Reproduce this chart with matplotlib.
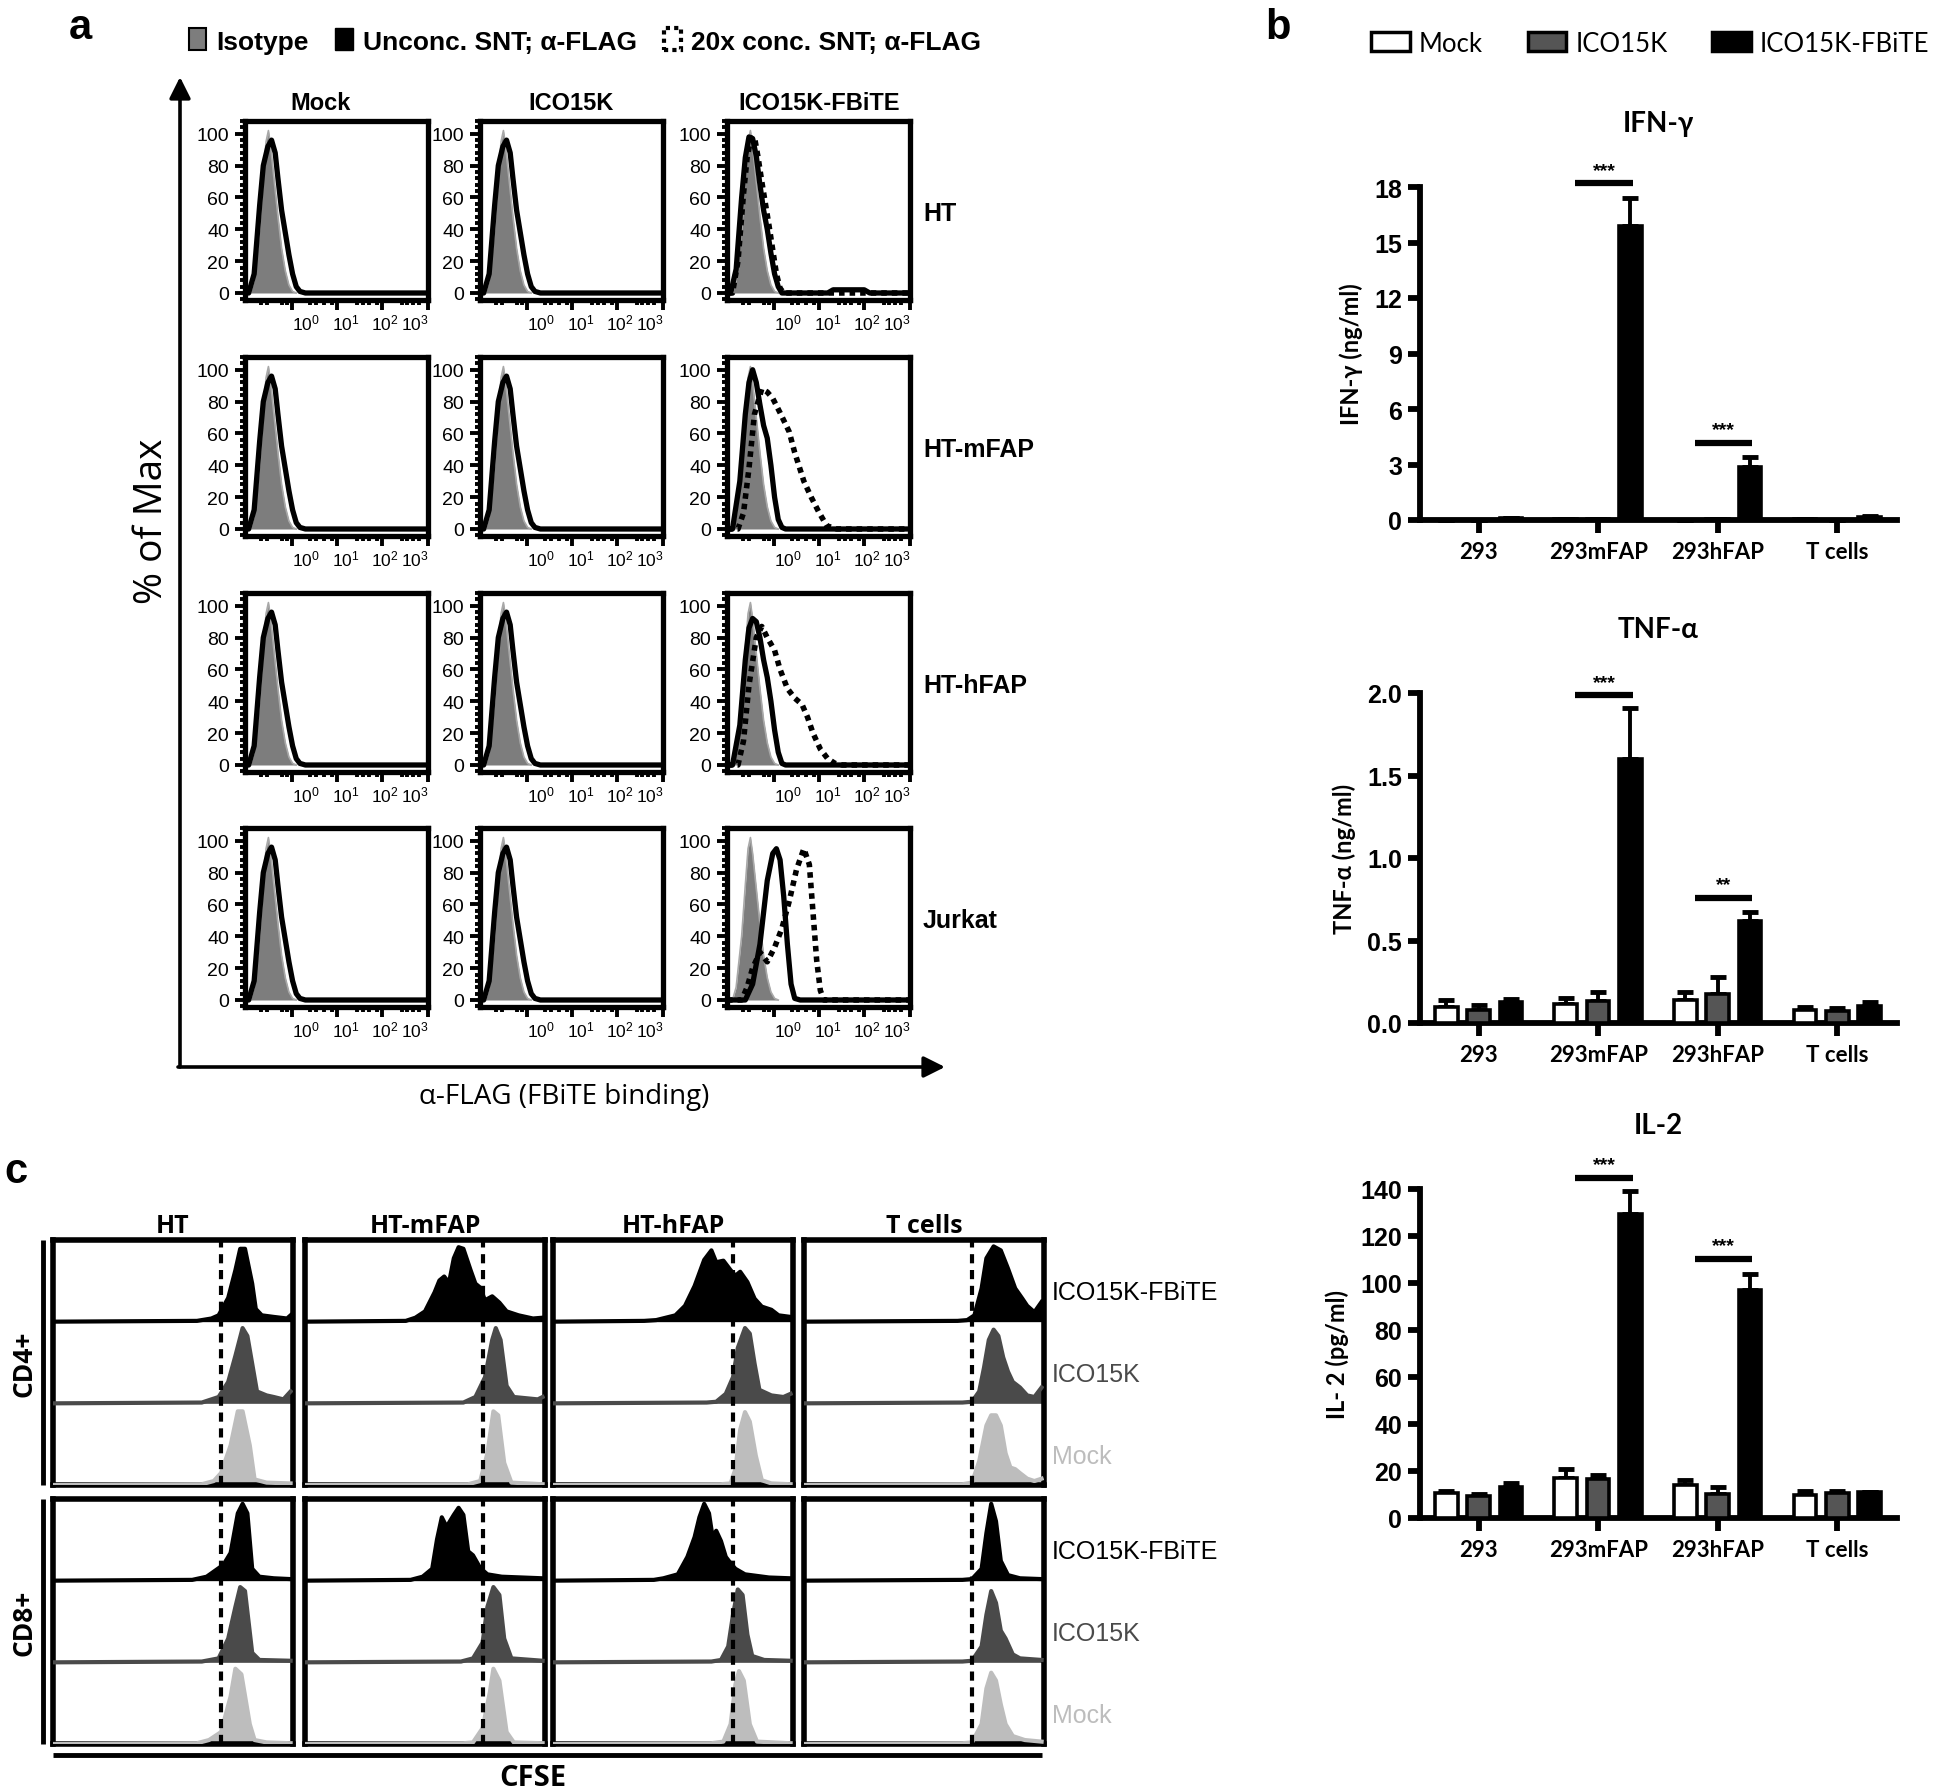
import numpy as np
import matplotlib
matplotlib.use("Agg")
import matplotlib.pyplot as plt
from matplotlib.patches import Patch
from matplotlib.ticker import FixedLocator, MultipleLocator

W, H = 1944, 1790
NARROW = ["Liberation Sans Narrow", "Liberation Sans", "DejaVu Sans"]
ARIAL = ["Liberation Sans", "DejaVu Sans"]
OPEN = ["Open Sans", "DejaVu Sans"]
LATO = ["Lato", "DejaVu Sans"]

plt.rcParams["font.family"] = NARROW
plt.rcParams["mathtext.fontset"] = "custom"
plt.rcParams["mathtext.rm"] = "Liberation Sans"
plt.rcParams["mathtext.default"] = "rm"

# ---------------- panel a : FBiTE binding (x = position in plot box, y = % of max)
a_cols = ["Mock", "ICO15K", "ICO15K-FBiTE"]
a_rows = ["HT", "HT-mFAP", "HT-hFAP", "Jurkat"]
a_legend = ["Isotype", "Unconc. SNT; α-FLAG", "20x conc. SNT; α-FLAG"]
a_ticklabels = [r"$10^{0}$", r"$10^{1}$", r"$10^{2}$", r"$10^{3}$"]

a_iso = [(0.00, 0), (0.03, 0), (0.05, 8), (0.08, 40), (0.10, 72), (0.115, 95), (0.128, 102),
         (0.14, 92), (0.16, 70), (0.18, 48), (0.20, 28), (0.22, 14), (0.24, 5), (0.26, 1), (0.28, 0)]
a_unc = [(0.00, 0), (0.02, 0), (0.05, 12), (0.08, 55), (0.10, 80), (0.125, 92), (0.145, 96),
         (0.165, 88), (0.18, 72), (0.20, 52), (0.22, 38), (0.24, 24), (0.26, 12), (0.28, 4),
         (0.30, 1), (0.33, 0), (1.00, 0)]
a_ht_fb_unc = [(0.00, 0), (0.02, 0), (0.05, 15), (0.08, 60), (0.10, 85), (0.12, 98), (0.14, 97),
               (0.16, 86), (0.18, 68), (0.20, 52), (0.22, 40), (0.24, 25), (0.26, 12), (0.28, 4),
               (0.30, 0), (0.55, 0), (0.58, 2), (0.75, 2), (0.78, 0), (1.00, 0)]
a_ht_fb_conc = [(0.00, 0), (0.03, 0), (0.06, 20), (0.09, 62), (0.11, 85), (0.13, 97), (0.15, 98),
                (0.17, 85), (0.19, 70), (0.21, 56), (0.23, 42), (0.25, 27), (0.27, 12), (0.29, 3),
                (0.31, 0), (1.00, 0)]
a_mfap_fb_unc = [(0.00, 0), (0.03, 0), (0.07, 30), (0.10, 72), (0.12, 92), (0.14, 100), (0.16, 92),
                 (0.18, 78), (0.20, 65), (0.22, 57), (0.24, 40), (0.26, 20), (0.28, 6), (0.30, 1),
                 (0.32, 0), (1.00, 0)]
a_mfap_fb_conc = [(0.00, 0), (0.06, 0), (0.09, 10), (0.12, 38), (0.15, 72), (0.19, 88), (0.22, 86),
                  (0.25, 82), (0.29, 73), (0.34, 61), (0.37, 48), (0.42, 30), (0.46, 20), (0.50, 11),
                  (0.545, 2), (0.60, 0), (1.00, 0)]
a_hfap_fb_unc = [(0.00, 0), (0.03, 0), (0.07, 25), (0.10, 66), (0.12, 86), (0.14, 92), (0.16, 90),
                 (0.18, 80), (0.20, 66), (0.22, 55), (0.24, 40), (0.26, 22), (0.28, 8), (0.30, 1),
                 (0.32, 0), (1.00, 0)]
a_hfap_fb_conc = [(0.00, 0), (0.06, 0), (0.09, 15), (0.12, 50), (0.16, 80), (0.19, 87), (0.22, 80),
                  (0.26, 72), (0.29, 60), (0.33, 48), (0.37, 42), (0.41, 38), (0.44, 30), (0.47, 20),
                  (0.51, 10), (0.55, 4), (0.59, 1), (0.63, 0), (1.00, 0)]
a_jur_fb_unc = [(0.00, 0), (0.10, 0), (0.14, 10), (0.18, 35), (0.22, 75), (0.25, 92), (0.27, 95),
                (0.29, 88), (0.31, 65), (0.33, 35), (0.35, 10), (0.37, 1), (0.40, 0), (1.00, 0)]
a_jur_fb_conc = [(0.00, 0), (0.08, 0), (0.11, 8), (0.14, 20), (0.18, 30), (0.22, 24), (0.26, 33),
                 (0.30, 45), (0.34, 62), (0.38, 82), (0.42, 95), (0.45, 85), (0.47, 55), (0.49, 25),
                 (0.51, 6), (0.53, 0), (1.00, 0)]
a_fb_unc = [a_ht_fb_unc, a_mfap_fb_unc, a_hfap_fb_unc, a_jur_fb_unc]
a_fb_conc = [a_ht_fb_conc, a_mfap_fb_conc, a_hfap_fb_conc, a_jur_fb_conc]

# ---------------- panel b : cytokines
b_cats = ["293", "293mFAP", "293hFAP", "T cells"]
b_groups = ["Mock", "ICO15K", "ICO15K-FBiTE"]

ifn_mock = [0.02, 0.03, 0.02, 0.03]
ifn_mock_err = [0.0, 0.0, 0.0, 0.0]
ifn_ico = [0.02, 0.03, 0.03, 0.0]
ifn_ico_err = [0.0, 0.0, 0.0, 0.0]
ifn_fb = [0.10, 15.9, 2.87, 0.18]
ifn_fb_err = [0.02, 1.5, 0.55, 0.03]
ifn_sig = [(1, 18.2, "***"), (2, 4.15, "***")]

tnf_mock = [0.10, 0.117, 0.137, 0.08]
tnf_mock_err = [0.04, 0.033, 0.053, 0.015]
tnf_ico = [0.08, 0.135, 0.178, 0.075]
tnf_ico_err = [0.03, 0.055, 0.10, 0.015]
tnf_fb = [0.125, 1.60, 0.62, 0.105]
tnf_fb_err = [0.02, 0.31, 0.05, 0.025]
tnf_sig = [(1, 1.985, "***"), (2, 0.757, "**")]

il2_mock = [10.6, 17.0, 13.9, 9.9]
il2_mock_err = [1.0, 3.8, 2.4, 1.4]
il2_ico = [9.2, 16.5, 10.3, 10.6]
il2_ico_err = [1.0, 1.9, 2.7, 1.0]
il2_fb = [13.4, 129.4, 96.9, 10.9]
il2_fb_err = [1.5, 9.9, 7.1, 0.2]
il2_sig = [(1, 144.7, "***"), (2, 110.3, "***")]

# ---------------- panel c : CFSE dilution (x = position in box, y = fraction of lane height)
c_cols = ["HT", "HT-mFAP", "HT-hFAP", "T cells"]
c_rows = ["CD4+", "CD8+"]
c_lanes = ["ICO15K-FBiTE", "ICO15K", "Mock"]
c_gate = [0.70, 0.74, 0.75, 0.70]

ht_cd4_fb = [(0, 0), (0.60, 0.01), (0.66, 0.04), (0.69, 0.08), (0.73, 0.30), (0.76, 0.65), (0.78, 0.92),
             (0.80, 0.92), (0.83, 0.48), (0.845, 0.16), (0.87, 0.08), (0.92, 0.06), (0.975, 0.04), (0.99, 0.08)]
ht_cd4_ico = [(0, 0), (0.62, 0.01), (0.69, 0.08), (0.73, 0.27), (0.76, 0.60), (0.79, 0.95), (0.81, 0.85),
              (0.83, 0.50), (0.85, 0.15), (0.89, 0.10), (0.92, 0.08), (0.96, 0.05), (0.99, 0.15)]
ht_cd4_mock = [(0, 0), (0.62, 0.01), (0.67, 0.05), (0.70, 0.15), (0.74, 0.50), (0.77, 0.93), (0.79, 0.93),
               (0.82, 0.50), (0.84, 0.07), (0.89, 0.03), (0.99, 0.02)]
ht_cd8_fb = [(0, 0), (0.58, 0.01), (0.64, 0.05), (0.71, 0.20), (0.74, 0.35), (0.77, 0.85), (0.79, 0.97),
             (0.81, 0.85), (0.83, 0.15), (0.86, 0.05), (0.92, 0.03), (0.99, 0.02)]
ht_cd8_ico = [(0, 0), (0.62, 0.01), (0.69, 0.05), (0.73, 0.30), (0.76, 0.70), (0.78, 0.95), (0.80, 0.90),
              (0.83, 0.12), (0.86, 0.03), (0.99, 0.02)]
ht_cd8_mock = [(0, 0), (0.60, 0.01), (0.65, 0.05), (0.70, 0.15), (0.74, 0.60), (0.76, 0.95), (0.785, 0.88),
               (0.82, 0.25), (0.84, 0.05), (0.89, 0.02), (0.99, 0.01)]
mfap_cd4_fb = [(0, 0), (0.42, 0.01), (0.46, 0.05), (0.50, 0.13), (0.54, 0.37), (0.56, 0.52), (0.58, 0.57),
               (0.60, 0.49), (0.62, 0.80), (0.64, 0.94), (0.66, 0.92), (0.69, 0.65), (0.71, 0.48), (0.73, 0.43),
               (0.75, 0.27), (0.78, 0.32), (0.81, 0.24), (0.84, 0.13), (0.89, 0.08), (0.95, 0.04), (0.99, 0.05)]
mfap_cd4_ico = [(0, 0), (0.66, 0.01), (0.71, 0.08), (0.75, 0.33), (0.78, 0.80), (0.795, 0.95), (0.815, 0.80),
                (0.84, 0.22), (0.87, 0.08), (0.97, 0.05), (0.99, 0.08)]
mfap_cd4_mock = [(0, 0), (0.68, 0.01), (0.73, 0.05), (0.76, 0.40), (0.785, 0.93), (0.805, 0.88), (0.83, 0.28),
                 (0.86, 0.03), (0.99, 0.01)]
mfap_cd8_fb = [(0, 0), (0.44, 0.01), (0.49, 0.05), (0.53, 0.15), (0.55, 0.52), (0.57, 0.80), (0.59, 0.68),
               (0.62, 0.83), (0.64, 0.92), (0.66, 0.83), (0.68, 0.37), (0.70, 0.32), (0.73, 0.16), (0.76, 0.08),
               (0.82, 0.05), (0.99, 0.03)]
mfap_cd8_ico = [(0, 0), (0.65, 0.01), (0.70, 0.05), (0.74, 0.25), (0.76, 0.70), (0.785, 0.95), (0.81, 0.85),
                (0.83, 0.30), (0.86, 0.05), (0.99, 0.02)]
mfap_cd8_mock = [(0, 0), (0.66, 0.01), (0.70, 0.02), (0.74, 0.20), (0.77, 0.65), (0.785, 0.95), (0.81, 0.80),
                 (0.84, 0.15), (0.87, 0.02), (0.99, 0.01)]
hfap_cd4_fb = [(0, 0), (0.38, 0.01), (0.43, 0.02), (0.51, 0.08), (0.55, 0.20), (0.59, 0.45), (0.63, 0.78),
               (0.66, 0.90), (0.68, 0.75), (0.71, 0.77), (0.74, 0.65), (0.76, 0.58), (0.78, 0.63), (0.81, 0.50),
               (0.84, 0.29), (0.87, 0.19), (0.91, 0.15), (0.94, 0.08), (0.99, 0.06)]
hfap_cd4_ico = [(0, 0), (0.64, 0.01), (0.68, 0.02), (0.72, 0.12), (0.75, 0.33), (0.77, 0.70), (0.80, 0.95),
                (0.82, 0.88), (0.84, 0.50), (0.86, 0.17), (0.91, 0.10), (0.96, 0.08), (0.99, 0.12)]
hfap_cd4_mock = [(0, 0), (0.70, 0.01), (0.74, 0.02), (0.76, 0.20), (0.78, 0.70), (0.80, 0.92), (0.82, 0.80),
                 (0.845, 0.37), (0.87, 0.06), (0.91, 0.02), (0.99, 0.01)]
hfap_cd8_fb = [(0, 0), (0.42, 0.01), (0.46, 0.03), (0.52, 0.08), (0.56, 0.30), (0.59, 0.55), (0.61, 0.80),
               (0.63, 0.97), (0.65, 0.85), (0.665, 0.55), (0.68, 0.63), (0.70, 0.50), (0.72, 0.30), (0.74, 0.22),
               (0.76, 0.15), (0.80, 0.08), (0.90, 0.04), (0.99, 0.03)]
hfap_cd8_ico = [(0, 0), (0.66, 0.01), (0.70, 0.03), (0.73, 0.20), (0.75, 0.60), (0.77, 0.92), (0.79, 0.85),
                (0.81, 0.35), (0.83, 0.08), (0.88, 0.03), (0.99, 0.02)]
hfap_cd8_mock = [(0, 0), (0.66, 0.01), (0.71, 0.03), (0.74, 0.25), (0.76, 0.75), (0.775, 0.92), (0.795, 0.80),
                 (0.82, 0.25), (0.85, 0.03), (0.99, 0.01)]
tc_cd4_fb = [(0, 0), (0.64, 0.01), (0.68, 0.02), (0.71, 0.08), (0.74, 0.42), (0.76, 0.80), (0.79, 0.95),
             (0.82, 0.90), (0.85, 0.67), (0.88, 0.42), (0.91, 0.29), (0.93, 0.20), (0.96, 0.12), (0.99, 0.25)]
tc_cd4_ico = [(0, 0), (0.66, 0.01), (0.70, 0.02), (0.73, 0.15), (0.75, 0.45), (0.77, 0.80), (0.79, 0.93),
              (0.81, 0.85), (0.83, 0.58), (0.85, 0.40), (0.87, 0.27), (0.90, 0.20), (0.93, 0.10), (0.96, 0.08),
              (0.99, 0.20)]
tc_cd4_mock = [(0, 0), (0.66, 0.01), (0.70, 0.03), (0.73, 0.30), (0.76, 0.75), (0.78, 0.88), (0.80, 0.88),
               (0.82, 0.75), (0.84, 0.40), (0.86, 0.22), (0.88, 0.20), (0.90, 0.15), (0.93, 0.08), (0.96, 0.05),
               (0.99, 0.08)]
tc_cd8_fb = [(0, 0), (0.66, 0.01), (0.70, 0.02), (0.74, 0.15), (0.76, 0.60), (0.78, 0.97), (0.80, 0.75),
             (0.82, 0.25), (0.85, 0.07), (0.90, 0.03), (0.99, 0.02)]
tc_cd8_ico = [(0, 0), (0.66, 0.01), (0.70, 0.02), (0.74, 0.20), (0.76, 0.60), (0.78, 0.90), (0.80, 0.75),
              (0.82, 0.40), (0.84, 0.30), (0.87, 0.10), (0.90, 0.05), (0.99, 0.03)]
tc_cd8_mock = [(0, 0), (0.66, 0.01), (0.70, 0.02), (0.74, 0.25), (0.76, 0.70), (0.78, 0.90), (0.80, 0.80),
               (0.82, 0.50), (0.84, 0.25), (0.87, 0.10), (0.92, 0.05), (0.99, 0.03)]

c_data = [
    [[ht_cd4_fb, ht_cd4_ico, ht_cd4_mock], [mfap_cd4_fb, mfap_cd4_ico, mfap_cd4_mock],
     [hfap_cd4_fb, hfap_cd4_ico, hfap_cd4_mock], [tc_cd4_fb, tc_cd4_ico, tc_cd4_mock]],
    [[ht_cd8_fb, ht_cd8_ico, ht_cd8_mock], [mfap_cd8_fb, mfap_cd8_ico, mfap_cd8_mock],
     [hfap_cd8_fb, hfap_cd8_ico, hfap_cd8_mock], [tc_cd8_fb, tc_cd8_ico, tc_cd8_mock]],
]
lane_colors = ["#000000", "#4a4a4a", "#bdbdbd"]


def px_box(l, t, w, h):
    return [l / W, 1 - (t + h) / H, w / W, h / H]


fig = plt.figure(figsize=(W / 100, H / 100), dpi=100)

# ---- panel a
a_left = [245, 480, 727]
a_top = [122, 358, 594, 829]
a_w, a_h = 183, 179
a_major = [0.255, 0.50, 0.75, 1.0]
a_minor = [0.09, 0.12, 0.20, 0.23, 0.355, 0.39, 0.43, 0.475, 0.61, 0.645, 0.68, 0.72,
           0.86, 0.885, 0.92, 0.95]
a_label_pos = [0.335, 0.55, 0.765, 0.93]
for r in range(4):
    for c in range(3):
        ax = fig.add_axes(px_box(a_left[c], a_top[r], a_w, a_h))
        xs, ys = zip(*a_iso)
        ax.fill_between(xs, 0, ys, color="#7d7d7d", lw=0, zorder=1)
        ax.plot(xs, ys, color="#a8a8a8", lw=1.2, zorder=2)
        unc = a_unc if c < 2 else a_fb_unc[r]
        ax.plot(*zip(*unc), color="black", lw=3.8, zorder=3, solid_joinstyle="round")
        if c == 2:
            ax.plot(*zip(*a_fb_conc[r]), color="black", lw=4.0, ls=(0, (1.0, 0.9)),
                    dash_capstyle="butt", zorder=4)
        ax.set_xlim(0, 1)
        ax.set_ylim(-4.4, 108)
        for s in ax.spines.values():
            s.set_linewidth(3.8)
        ax.yaxis.set_major_locator(FixedLocator([0, 20, 40, 60, 80, 100]))
        ax.yaxis.set_minor_locator(MultipleLocator(4))
        ax.xaxis.set_major_locator(FixedLocator(a_major))
        ax.xaxis.set_minor_locator(FixedLocator(a_minor))
        ax.set_xticklabels([])
        ax.tick_params(which="major", direction="out", length=7.5, width=2.8, labelsize=14, pad=4)
        ax.tick_params(which="minor", direction="out", length=3.5, width=2.8)
        for pos, lab in zip(a_label_pos, a_ticklabels):
            ax.text(pos, -0.07, lab, transform=ax.transAxes, fontsize=12.5, ha="center", va="top")

# ---- panel b
b_specs = [
    (188, 521, (0, 18), [0, 3, 6, 9, 12, 15, 18], "IFN-γ", "IFN-γ (ng/ml)",
     [(ifn_mock, ifn_mock_err), (ifn_ico, ifn_ico_err), (ifn_fb, ifn_fb_err)], ifn_sig, "{:.0f}"),
    (694, 1024, (0, 2.0), [0, 0.5, 1.0, 1.5, 2.0], "TNF-α", "TNF-α (ng/ml)",
     [(tnf_mock, tnf_mock_err), (tnf_ico, tnf_ico_err), (tnf_fb, tnf_fb_err)], tnf_sig, "{:.1f}"),
    (1190, 1519, (0, 140), [0, 20, 40, 60, 80, 100, 120, 140], "IL-2", "IL- 2 (pg/ml)",
     [(il2_mock, il2_mock_err), (il2_ico, il2_ico_err), (il2_fb, il2_fb_err)], il2_sig, "{:.0f}"),
]
bar_colors = ["white", "#555555", "black"]
offsets = [-0.27, 0.0, 0.27]
for top, bot, ylim, yt, title, ylab, series, sig, fmt in b_specs:
    ax = fig.add_axes(px_box(1420, top, 477, bot - top))
    x = np.arange(len(b_cats))
    for off, (vals, errs), fc in zip(offsets, series, bar_colors):
        ax.errorbar(x + off, vals, yerr=[np.zeros(len(vals)), errs], fmt="none", ecolor="black",
                    elinewidth=2.8, capsize=6, capthick=3.5, zorder=2, clip_on=False)
        ax.bar(x + off, vals, width=0.19, color=fc, edgecolor="black", linewidth=2.6, zorder=3)
    for g, yv, stars in sig:
        ax.plot([g - 0.19, g + 0.29], [yv, yv], color="black", lw=4.5, solid_capstyle="butt",
                clip_on=False, zorder=4)
        ax.text(g + 0.05, yv + (ylim[1] * 0.014), stars, ha="center", va="bottom",
                fontsize=14, fontweight="bold", family=ARIAL)
    ax.set_xlim(-0.49, 3.5)
    ax.set_ylim(*ylim)
    ax.set_yticks(yt)
    ax.set_yticklabels([fmt.format(v) for v in yt], fontsize=18, fontweight="bold")
    ax.set_xticks(x)
    ax.set_xticklabels(b_cats, fontsize=16, fontweight="bold", family=LATO)
    ax.spines["top"].set_visible(False)
    ax.spines["right"].set_visible(False)
    ax.spines["left"].set_linewidth(4.2)
    ax.spines["bottom"].set_linewidth(4.2)
    ax.tick_params(direction="out", length=9, width=4.2, pad=4)
    ax.tick_params(axis="x", pad=6)
    ax.set_ylabel(ylab, fontsize=17, fontweight="bold", family=LATO, labelpad=8)
    ax.set_title(title, fontsize=20, fontweight="bold", family=LATO, pad=40)

# ---- panel c
c_left = [53, 305, 553, 804]
c_width = 240
c_top = [1241, 1500]
c_height = 245
for r in range(2):
    for c in range(4):
        ax = fig.add_axes(px_box(c_left[c], c_top[r], c_width, c_height))
        for i, (pts, col) in enumerate(zip(c_data[r][c], lane_colors)):
            base = 2 - i
            xs, ys = zip(*pts)
            ys = base + np.array(ys) * 0.97
            ax.fill_between(xs, base, ys, color=col, lw=0, zorder=2)
            ax.plot(xs, ys, color=col, lw=3.0, zorder=3)
        ax.axvline(c_gate[c], color="black", lw=3.0, ls=(0, (2.2, 1.6)), zorder=4)
        ax.set_xlim(0, 1)
        ax.set_ylim(0, 3)
        ax.set_xticks([])
        ax.set_yticks([])
        for s in ax.spines.values():
            s.set_linewidth(4.0)
        if r == 0:
            ax.set_title(c_cols[c], fontsize=18, fontweight="bold", family=OPEN, pad=6)

# ---- legends
a_handles = [Patch(facecolor="#7d7d7d", edgecolor="black", linewidth=1.5),
             Patch(facecolor="black", edgecolor="black"),
             Patch(facecolor="white", edgecolor="black", linewidth=3, linestyle=(0, (1, 1)))]
fig.legend(a_handles, a_legend, loc="center left", bbox_to_anchor=(189 / W, 1 - 42 / H), ncol=3,
           frameon=False, borderpad=0, borderaxespad=0, handlelength=0.65, handleheight=0.9,
           handletextpad=0.4, columnspacing=1.0,
           prop={"family": NARROW, "weight": "bold", "size": 19})
b_handles = [Patch(facecolor=fc, edgecolor="black", linewidth=2.5) for fc in bar_colors]
fig.legend(b_handles, b_groups, loc="center left", bbox_to_anchor=(1371 / W, 1 - 44 / H), ncol=3,
           frameon=False, borderpad=0, borderaxespad=0, handlelength=1.5, handleheight=0.75,
           handletextpad=0.35, columnspacing=1.75, prop={"family": LATO, "size": 18.5})

# ---- overlay for labels and arrows (pixel coordinates)
ov = fig.add_axes([0, 0, 1, 1], zorder=-1)
ov.set_xlim(0, W)
ov.set_ylim(H, 0)
ov.axis("off")

for lab, x, y in [("a", 80, 28), ("b", 1278, 28), ("c", 16, 1172)]:
    ov.text(x, y, lab, fontsize=30, fontweight="bold", family=ARIAL, ha="center", va="center")

a_title_x = [321, 571, 819]
for c in range(3):
    ov.text(a_title_x[c], 103, a_cols[c], fontsize=17, fontweight="bold", ha="center", va="center")
for r in range(4):
    ov.text(923, a_top[r] + 92, a_rows[r], fontsize=18, fontweight="bold", ha="left", va="center")

ov.annotate("", xy=(180, 78), xytext=(180, 1068),
            arrowprops=dict(arrowstyle="-|>", lw=2.6, color="black", mutation_scale=32, shrinkA=0, shrinkB=0))
ov.annotate("", xy=(945, 1068), xytext=(178, 1068),
            arrowprops=dict(arrowstyle="-|>", lw=2.6, color="black", mutation_scale=32, shrinkA=0, shrinkB=0))
ov.text(152, 521, "% of Max", rotation=90, fontsize=28, family=OPEN, ha="center", va="center")
ov.text(564, 1097, "α-FLAG (FBiTE binding)", fontsize=20, family=OPEN, ha="center", va="center")

for r in range(2):
    ov.plot([43, 43], [c_top[r], c_top[r] + c_height], color="black", lw=3.5, solid_capstyle="butt")
    ov.text(24, c_top[r] + c_height / 2, c_rows[r], rotation=90, fontsize=19, fontweight="bold",
            family=OPEN, ha="center", va="center")
    for i, lane in enumerate(c_lanes):
        ov.text(1052, c_top[r] + 52 + i * 82, lane, fontsize=18, family=ARIAL, color=lane_colors[i],
                ha="left", va="center")
ov.plot([53, 1042], [1756, 1756], color="black", lw=3.5, solid_capstyle="butt")
ov.text(533, 1779, "CFSE", fontsize=21, fontweight="bold", family=OPEN, ha="center", va="center")

fig.savefig("out.png", dpi=100)
